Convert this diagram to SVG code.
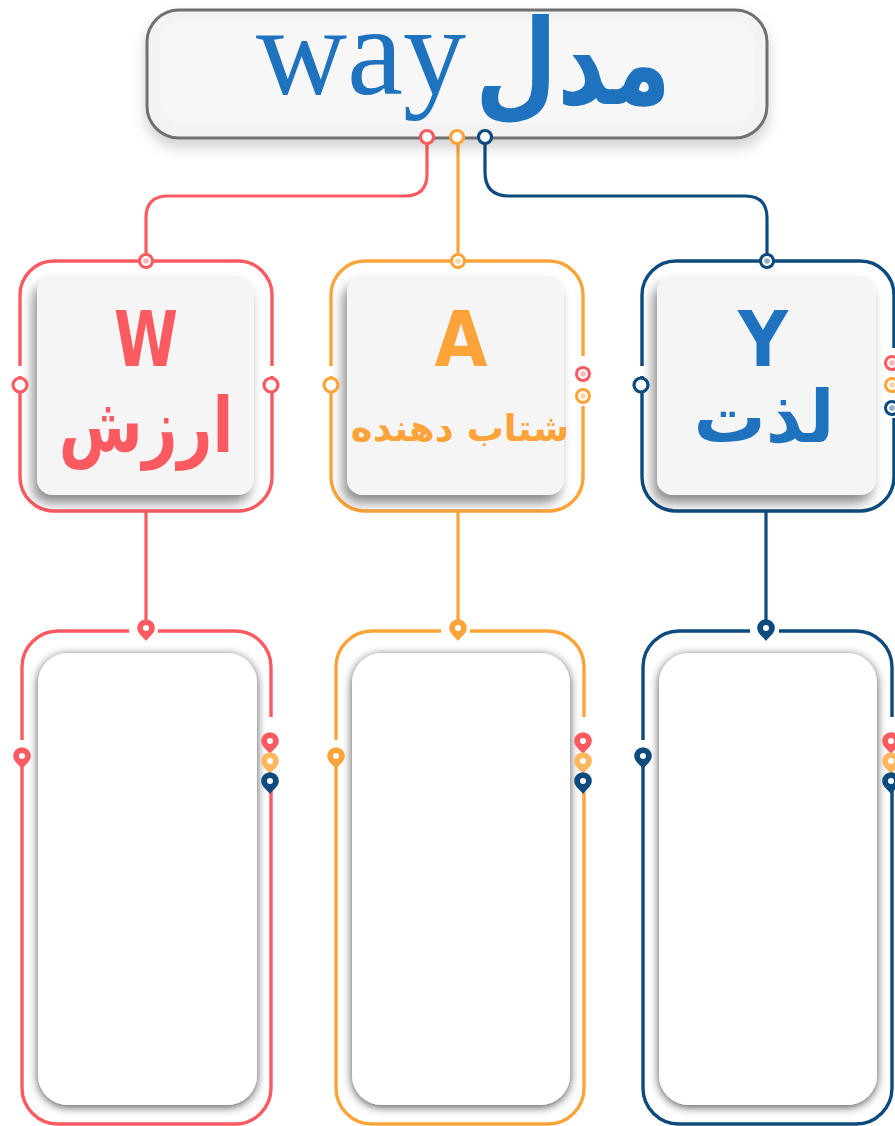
<svg xmlns="http://www.w3.org/2000/svg" xmlns:xlink="http://www.w3.org/1999/xlink" width="895" height="1126" viewBox="0 0 895 1126">
  <defs>
    <style>
      .red { stroke: #fb5b60; }
      .org { stroke: #fca43a; }
      .blu { stroke: #0d4a7d; }
      .line { fill: none; stroke-width: 3.2; stroke-linecap: round; }
      .frame { fill: none; stroke-width: 3.4; }
      .ring { fill: #ffffff; stroke-width: 3.2; }
      .latin { font-family: "DejaVu Sans", "Liberation Sans", sans-serif; font-weight: bold; text-anchor: middle; }
      .fa { font-family: "DejaVu Sans", "Noto Sans", sans-serif; font-weight: bold; text-anchor: middle; direction: rtl; }
      .gap { fill: #ffffff; }
    </style>
    <filter id="titleShadow" x="-10%" y="-20%" width="120%" height="160%">
      <feDropShadow dx="0" dy="8" stdDeviation="7" flood-color="#000" flood-opacity="0.18"/>
    </filter>
    <filter id="cardShadow" x="-20%" y="-20%" width="140%" height="140%">
      <feDropShadow dx="-4" dy="8" stdDeviation="6" flood-color="#000" flood-opacity="0.45"/>
    </filter>
    <filter id="panelShadow" x="-20%" y="-10%" width="140%" height="120%">
      <feDropShadow dx="0" dy="2" stdDeviation="5" flood-color="#000" flood-opacity="0.7"/>
    </filter>
    <!-- teardrop marker pin, coloured through currentColor -->
    <g id="drop">
      <path d="M0,12 C-2.8,8 -8.8,4.5 -8.8,-1 A8.8,8.8 0 1 1 8.8,-1 C8.8,4.5 2.8,8 0,12 Z" fill="currentColor"/>
      <circle cx="0" cy="-1" r="3" fill="#ffffff"/>
    </g>
    <!-- dotted ring pin -->
    <g id="dot">
      <circle cx="0" cy="0" r="8" fill="currentColor"/>
      <circle cx="0" cy="0" r="5" fill="#ffffff"/>
      <circle cx="0" cy="0" r="2.8" fill="currentColor" fill-opacity="0.45"/>
    </g>
  </defs>

  <rect width="895" height="1126" fill="#ffffff"/>

  <!-- connectors -->
  <g id="connectors">
    <path class="line red" d="M427,143 V174 Q427,196 405,196 H168 Q146,196 146,218 V254"/>
    <path class="line org" d="M458,143 V254"/>
    <path class="line blu" d="M485,143 V172 Q485,196 509,196 H745 Q767,196 767,218 V254"/>
    <path class="line red" d="M146,512 V621"/>
    <path class="line org" d="M458,512 V621"/>
    <path class="line blu" d="M766,512 V621"/>
  </g>

  <!-- title -->
  <g id="title">
    <rect x="147" y="10" width="620" height="128" rx="32" fill="#f3f3f3" stroke="#707070" stroke-width="3" filter="url(#titleShadow)"/>
    <rect x="160" y="20" width="594" height="104" rx="24" fill="#f7f7f7"/>
    <text x="256" y="94" font-family="'Liberation Serif', 'DejaVu Serif', serif" font-size="126" fill="#1f73be">way</text>
    <text transform="translate(573,104) scale(0.95,1.18)" x="0" y="0" class="fa" font-size="100" fill="#1f73be">مدل</text>
    <circle cx="427" cy="137" r="6.5" class="ring red"/>
    <circle cx="457" cy="137" r="6.5" class="ring org"/>
    <circle cx="485" cy="137" r="6.5" class="ring blu"/>
  </g>

  <!-- W : value -->
  <g id="node-w">
    <rect x="20" y="261" width="252" height="250" rx="34" class="frame red"/>
    <rect x="16" y="366" width="8" height="10" class="gap"/>
    <rect x="268" y="366" width="8" height="10" class="gap"/>
    <rect x="37" y="276" width="217" height="219" rx="16" fill="#f5f5f5" filter="url(#cardShadow)"/>
    <text x="146" y="366" class="latin" font-size="76" fill="#fb5b60" textLength="64" lengthAdjust="spacingAndGlyphs">W</text>
    <text transform="translate(146,452) scale(0.8,1)" x="0" y="0" class="fa" font-size="76" fill="#fb5b60">ارزش</text>
    <circle cx="20" cy="385" r="7" class="ring red"/>
    <circle cx="271" cy="385" r="7" class="ring red"/>
    <use href="#dot" x="146" y="261" color="#fb5b60"/>
  </g>

  <!-- A : accelerator -->
  <g id="node-a">
    <rect x="331" y="261" width="252" height="250" rx="34" class="frame org"/>
    <rect x="327" y="366" width="8" height="10" class="gap"/>
    <rect x="579" y="356" width="8" height="50" class="gap"/>
    <rect x="347" y="276" width="217" height="219" rx="16" fill="#f5f5f5" filter="url(#cardShadow)"/>
    <text x="461" y="366" class="latin" font-size="76" fill="#fca43a" textLength="53" lengthAdjust="spacingAndGlyphs">A</text>
    <text x="460" y="441" class="fa" font-size="37" fill="#fca43a">شتاب دهنده</text>
    <circle cx="331" cy="385" r="7" class="ring org"/>
    <use href="#dot" x="583" y="374" color="#fb5b60"/>
    <use href="#dot" x="583" y="396" color="#fca43a"/>
    <use href="#dot" x="458" y="261" color="#fca43a"/>
  </g>

  <!-- Y : pleasure -->
  <g id="node-y">
    <rect x="642" y="261" width="252" height="250" rx="34" class="frame blu"/>
    <rect x="638" y="366" width="8" height="10" class="gap"/>
    <rect x="888" y="348" width="8" height="70" class="gap"/>
    <rect x="657" y="276" width="219" height="219" rx="16" fill="#f5f5f5" filter="url(#cardShadow)"/>
    <text x="763" y="366" class="latin" font-size="76" fill="#1f73be" textLength="50" lengthAdjust="spacingAndGlyphs">Y</text>
    <text x="764" y="442" class="fa" font-size="72" fill="#1f73be">لذت</text>
    <circle cx="641" cy="385" r="7" class="ring blu"/>
    <use href="#dot" x="892" y="363" color="#fb5b60"/>
    <use href="#dot" x="892" y="385" color="#fca43a"/>
    <use href="#dot" x="892" y="408" color="#0d4a7d"/>
    <use href="#dot" x="767" y="261" color="#0d4a7d"/>
  </g>

  <!-- lower panels -->
  <g id="panel-w">
    <rect x="22" y="631" width="249" height="493" rx="36" class="frame red"/>
    <rect x="129" y="627" width="29" height="8" class="gap"/>
    <rect x="18" y="740" width="8" height="12" class="gap"/>
    <rect x="266" y="717" width="8" height="70" class="gap"/>
    <rect x="38" y="653" width="219" height="452" rx="30" fill="#ffffff" filter="url(#panelShadow)"/>
    <use href="#drop" x="146" y="629" color="#fb5b60"/>
    <use href="#drop" x="22" y="757" color="#fb5b60"/>
    <use href="#drop" x="270" y="742" color="#fb5b60"/>
    <use href="#drop" x="270" y="762" color="#fdb75e"/>
    <use href="#drop" x="270" y="782" color="#0d4a7d"/>
  </g>

  <g id="panel-a">
    <rect x="336" y="631" width="248" height="493" rx="36" class="frame org"/>
    <rect x="441" y="627" width="29" height="8" class="gap"/>
    <rect x="332" y="740" width="8" height="12" class="gap"/>
    <rect x="579" y="717" width="8" height="70" class="gap"/>
    <rect x="352" y="653" width="218" height="452" rx="30" fill="#ffffff" filter="url(#panelShadow)"/>
    <use href="#drop" x="458" y="629" color="#fca43a"/>
    <use href="#drop" x="336" y="757" color="#fca43a"/>
    <use href="#drop" x="583" y="742" color="#fb5b60"/>
    <use href="#drop" x="583" y="762" color="#fdb75e"/>
    <use href="#drop" x="583" y="782" color="#0d4a7d"/>
  </g>

  <g id="panel-y">
    <rect x="643" y="631" width="249" height="493" rx="36" class="frame blu"/>
    <rect x="750" y="627" width="29" height="8" class="gap"/>
    <rect x="639" y="740" width="8" height="12" class="gap"/>
    <rect x="887" y="717" width="8" height="70" class="gap"/>
    <rect x="659" y="653" width="218" height="452" rx="30" fill="#ffffff" filter="url(#panelShadow)"/>
    <use href="#drop" x="766" y="629" color="#0d4a7d"/>
    <use href="#drop" x="643" y="757" color="#0d4a7d"/>
    <use href="#drop" x="891" y="742" color="#fb5b60"/>
    <use href="#drop" x="891" y="762" color="#fdb75e"/>
    <use href="#drop" x="891" y="782" color="#0d4a7d"/>
  </g>
</svg>
